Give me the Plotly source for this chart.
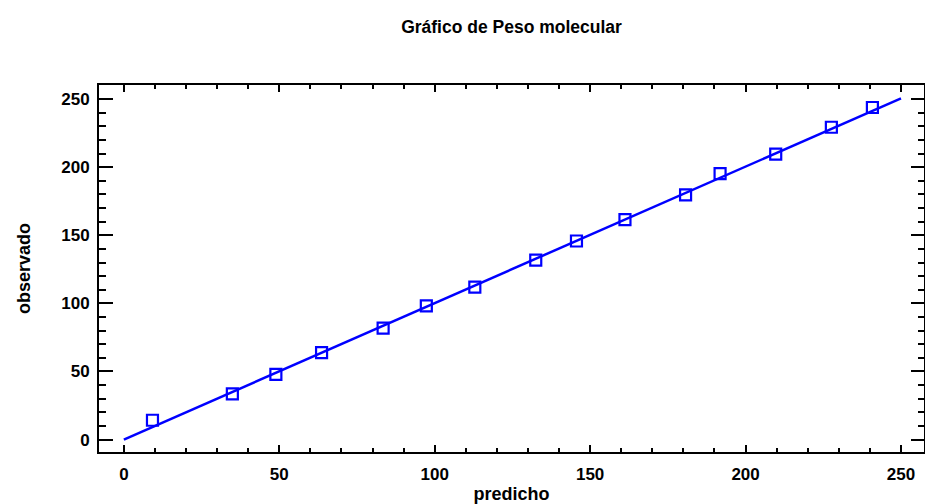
import plotly.graph_objects as go

# Data
predicho = [9.2, 34.9, 48.9, 63.6, 83.4, 97.3, 112.9, 132.5, 145.6, 161.2,
            180.7, 191.8, 209.7, 227.6, 240.8]
observado = [14.2, 33.6, 47.9, 63.9, 81.8, 98.1, 111.9, 131.7, 145.8, 161.5,
             179.7, 195.3, 209.6, 229.3, 243.8]
line_x = [0, 250]
line_y = [0, 250.5]
tick_vals = [0, 50, 100, 150, 200, 250]
tick_text = ["<b>0</b>", "<b>50</b>", "<b>100</b>", "<b>150</b>", "<b>200</b>", "<b>250</b>"]

x_range = [-8.0, 257.4]
y_range = [-9.1, 260.3]

BLUE = "#0000FF"
FONT = "Liberation Sans"

fig = go.Figure()
fig.add_trace(go.Scatter(x=line_x, y=line_y, mode="lines",
                         line=dict(color=BLUE, width=2.5), hoverinfo="skip"))
fig.add_trace(go.Scatter(x=predicho, y=observado, mode="markers",
                         marker=dict(symbol="square-open", size=11, color=BLUE,
                                     line=dict(width=2.2, color=BLUE))))
# invisible trace to make mirror axes exist
fig.add_trace(go.Scatter(x=[None], y=[None], xaxis="x2", yaxis="y2",
                         mode="markers", showlegend=False, hoverinfo="skip"))

common = dict(showline=True, linecolor="black", linewidth=2, ticks="inside",
              tickcolor="black", tickwidth=2, showgrid=False, zeroline=False)

fig.update_layout(
    width=925, height=504,
    margin=dict(l=99, r=1, t=85, b=52),
    plot_bgcolor="white", paper_bgcolor="white",
    showlegend=False,
    font=dict(family=FONT, color="black"),
    title=dict(text="<b>Gráfico de Peso molecular</b>", x=0.553, xanchor="center",
               y=0.946, yanchor="middle", font=dict(size=17.5, family=FONT, color="black")),
    xaxis=dict(range=x_range, tickvals=tick_vals, ticktext=tick_text, ticklen=7,
               minor=dict(dtick=10, tick0=0, ticks="inside", ticklen=4,
                          tickwidth=2, tickcolor="black"),
               tickfont=dict(size=17, family=FONT), ticklabelstandoff=6,
               title=dict(text="<b>predicho</b>", font=dict(size=18, family=FONT), standoff=4),
               **common),
    yaxis=dict(range=y_range, tickvals=tick_vals, ticktext=tick_text, ticklen=14,
               minor=dict(dtick=10, tick0=0, ticks="inside", ticklen=7,
                          tickwidth=2, tickcolor="black"),
               tickfont=dict(size=17, family=FONT), ticklabelstandoff=4,
               title=dict(text="<b>observado</b>", font=dict(size=18, family=FONT), standoff=26),
               **common),
    xaxis2=dict(range=x_range, overlaying="x", side="top", anchor="y", dtick=50, tick0=0,
                ticklen=7, showticklabels=False,
                minor=dict(dtick=10, tick0=0, ticks="inside", ticklen=4,
                           tickwidth=2, tickcolor="black"),
                **common),
    yaxis2=dict(range=y_range, overlaying="y", side="right", anchor="x", dtick=50, tick0=0,
                ticklen=13, showticklabels=False,
                minor=dict(dtick=10, tick0=0, ticks="inside", ticklen=6,
                           tickwidth=2, tickcolor="black"),
                **common),
)

fig.write_html("out.html")
